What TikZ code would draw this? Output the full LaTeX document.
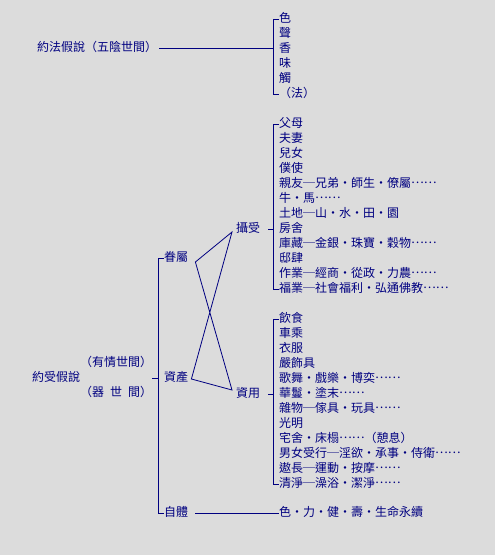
\documentclass[tikz,border=0pt]{standalone}
\usepackage{fontspec}
\setmainfont{Noto Sans CJK TC}
\definecolor{navyblue}{RGB}{0,0,128}
\definecolor{bggray}{RGB}{220,220,220}
\newcommand{\dotsrow}{\raisebox{0.33em}{……}}
\tikzset{
  leaf/.style={anchor=west, inner sep=0pt, text height=0.88em, text depth=0.12em, text=navyblue},
  bline/.style={draw=navyblue, line width=0.8pt},
}
\begin{document}
\begin{tikzpicture}[x=1pt,y=-1pt,font=\fontsize{12pt}{14pt}\selectfont]
\fill[bggray] (0,0) rectangle (495,555);
\useasboundingbox (0,0) rectangle (495,555);

\draw (37,48) node[leaf] (fa) {約法假說（五陰世間）};
\draw (279,19) node[leaf] (c1) {色};
\draw (279,34) node[leaf] (c2) {聲};
\draw (279,49) node[leaf] (c3) {香};
\draw (279,64) node[leaf] (c4) {味};
\draw (279,79) node[leaf] (c5) {觸};
\draw (279,94) node[leaf] (c6) {（法）};
\draw[bline] (c1.west) -- ++(-6,0) coordinate (b1) |- (c6.west);
\draw[bline] ([xshift=2pt]fa.east) -- (fa.east -| b1);

\draw (32,378) node[leaf] (sy) {約受假說};
\draw (80,363) node[leaf] (yq) {（有情世間）};
\draw (80,393) node[leaf] (qs) {（\makebox[4em][s]{器\hfill 世\hfill 間}）};
\draw (164,258) node[leaf] (js) {眷屬};
\draw (164,378) node[leaf] (zc) {資產};
\draw (164,513) node[leaf] (zt) {自體};
\draw[bline] (js.west) -- ++(-6,0) coordinate (b2) |- (zt.west);
\draw[bline] (yq.east |- zc.west) -- (zc.west -| b2);

\draw (236,229) node[leaf] (ss) {攝受};
\draw (279,124) node[leaf] (p1) {父母};
\draw (279,139) node[leaf] (p2) {夫妻};
\draw (279,154) node[leaf] (p3) {兒女};
\draw (279,169) node[leaf] (p4) {僕使};
\draw (279,184) node[leaf] (p5) {親友─兄弟・師生・僚屬\dotsrow};
\draw (279,199) node[leaf] (p6) {牛・馬\dotsrow};
\draw (279,214) node[leaf] (p7) {土地─山・水・田・園};
\draw (279,229) node[leaf] (p8) {房舍};
\draw (279,244) node[leaf] (p9) {庫藏─金銀・珠寶・穀物\dotsrow};
\draw (279,259) node[leaf] (p10) {邸肆};
\draw (279,274) node[leaf] (p11) {作業─經商・從政・力農\dotsrow};
\draw (279,289) node[leaf] (p12) {福業─社會福利・弘通佛教\dotsrow};
\draw[bline] (p1.west) -- ++(-6,0) coordinate (b3) |- (p12.west);
\draw[bline] ([xshift=8pt]ss.east) -- (ss.east -| b3);

\draw (236,394) node[leaf] (zy) {資用};
\draw (279,319) node[leaf] (q1) {飲食};
\draw (279,334) node[leaf] (q2) {車乘};
\draw (279,349) node[leaf] (q3) {衣服};
\draw (279,364) node[leaf] (q4) {嚴飾具};
\draw (279,379) node[leaf] (q5) {歌舞・戲樂・博奕\dotsrow};
\draw (279,394) node[leaf] (q6) {華鬘・塗末\dotsrow};
\draw (279,409) node[leaf] (q7) {雜物─傢具・玩具\dotsrow};
\draw (279,424) node[leaf] (q8) {光明};
\draw (279,439) node[leaf] (q9) {宅舍・床榻\dotsrow（憩息）};
\draw (279,454) node[leaf] (q10) {男女受行─淫欲・承事・侍衛\dotsrow};
\draw (279,469) node[leaf] (q11) {遨長─運動・按摩\dotsrow};
\draw (279,484) node[leaf] (q12) {清淨─澡浴・潔淨\dotsrow};
\draw[bline] (q1.west) -- ++(-6,0) coordinate (b4) |- (q12.west);
\draw[bline] ([xshift=8pt]zy.east) -- (zy.east -| b4);

\draw (279,513) node[leaf] (zs) {色・力・健・壽・生命永續};
\draw[bline] ([xshift=7pt]zt.east) -- (zs.west);

\coordinate (jsx) at ([shift={(7,4)}]js.east);
\coordinate (ssx) at ([shift={(-4,3)}]ss.west);
\coordinate (zcx) at ([shift={(3,1)}]zc.east);
\coordinate (zyx) at ([shift={(-4,-4)}]zy.west);
\draw[bline] (jsx) -- (ssx) -- (zcx) -- (zyx) -- cycle;
\end{tikzpicture}
\end{document}
